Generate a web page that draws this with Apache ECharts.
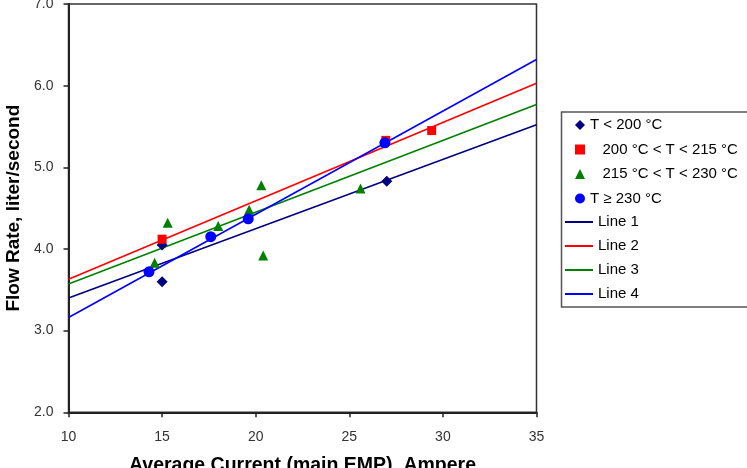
<!DOCTYPE html>
<html>
<head>
<meta charset="utf-8">
<script src="https://cdn.jsdelivr.net/npm/echarts@6/dist/echarts.min.js"></script>
<style>html,body{margin:0;padding:0;background:#fff}#c{width:747px;height:468px}</style>
</head>
<body>
<div id="c"></div>
<script>
// Data
const seriesNames = ['T < 200 °C', '   200 °C < T < 215 °C', '   215 °C < T < 230 °C', 'T \u2265 230 °C'];
const lineNames = ['Line 1', 'Line 2', 'Line 3', 'Line 4'];

const navyX = [15, 15, 27];
const navyY = [4.05, 3.60, 4.83];
const redX = [15, 26.95, 29.4];
const redY = [4.12, 5.33, 5.45];
const greenX = [14.6, 15.3, 18.0, 19.65, 20.3, 20.4, 25.6];
const greenY = [3.83, 4.32, 4.28, 4.48, 4.78, 3.92, 4.74];
const blueX = [14.3, 17.6, 19.6, 26.9];
const blueY = [3.72, 4.15, 4.37, 5.30];

const lineX = [10, 35];
const line1Y = [3.40, 5.52];
const line2Y = [3.63, 6.03];
const line3Y = [3.57, 5.77];
const line4Y = [3.16, 6.32];

const xTicks = [10, 15, 20, 25, 30, 35];
const yTicks = [2, 3, 4, 5, 6, 7];

const zip = (xs, ys) => xs.map((x, i) => [x, ys[i]]);

const chart = echarts.init(document.getElementById('c'), null, {renderer: 'canvas'});
const font = 'Liberation Sans, Arial, sans-serif';

const scatterDefs = [
  {name: seriesNames[0], data: zip(navyX, navyY), symbol: 'diamond', size: 11, color: '#000080'},
  {name: seriesNames[1], data: zip(redX, redY), symbol: 'rect', size: 9, color: '#FF0000'},
  {name: seriesNames[2], data: zip(greenX, greenY), symbol: 'triangle', size: 10, color: '#008000'},
  {name: seriesNames[3], data: zip(blueX, blueY), symbol: 'circle', size: 11, color: '#0000FF'}
];
const lineDefs = [
  {name: lineNames[0], data: zip(lineX, line1Y), color: '#000080'},
  {name: lineNames[1], data: zip(lineX, line2Y), color: '#FF0000'},
  {name: lineNames[2], data: zip(lineX, line3Y), color: '#008000'},
  {name: lineNames[3], data: zip(lineX, line4Y), color: '#0000FF'}
];

const series = [];
lineDefs.forEach(d => series.push({
  type: 'line', name: d.name, data: d.data, symbol: 'none', showSymbol: false,
  lineStyle: {color: d.color, width: 1.6}, itemStyle: {color: d.color}, z: 2, animation: false
}));
scatterDefs.forEach(d => series.push({
  type: 'scatter', name: d.name, data: d.data, symbol: d.symbol, symbolSize: d.size,
  itemStyle: {color: d.color, opacity: 1}, z: 3, animation: false
}));

chart.setOption({
  animation: false,
  backgroundColor: '#fff',
  grid: {left: 68.5, right: 210.5, top: 4, bottom: 55.7, show: true, borderColor: '#333', borderWidth: 1.5,
         containLabel: false, outerBoundsMode: 'none'},
  xAxis: {
    type: 'value', min: xTicks[0], max: xTicks[xTicks.length - 1], interval: 5,
    splitLine: {show: false},
    axisLine: {show: true, onZero: false, lineStyle: {color: '#222', width: 2}},
    axisTick: {show: true, inside: false, length: 5, lineStyle: {color: '#222', width: 1.5}},
    axisLabel: {color: '#333', fontSize: 14, fontFamily: font, margin: 18},
    name: 'Average Current (main EMP), Ampere', nameLocation: 'middle', nameGap: 43,
    nameTextStyle: {color: '#000', fontSize: 19.5, fontWeight: 'bold', fontFamily: font}
  },
  yAxis: {
    type: 'value', min: yTicks[0], max: yTicks[yTicks.length - 1], interval: 1,
    splitLine: {show: false},
    axisLine: {show: true, onZero: false, lineStyle: {color: '#222', width: 2}},
    axisTick: {show: true, inside: false, length: 5, lineStyle: {color: '#222', width: 1.5}},
    axisLabel: {color: '#333', fontSize: 14, fontFamily: font, margin: 15, formatter: v => v.toFixed(1)},
    name: 'Flow Rate, liter/second', nameLocation: 'middle', nameGap: 45, nameRotate: 90,
    nameTextStyle: {color: '#000', fontSize: 19, fontWeight: 'bold', fontFamily: font}
  },
  legend: [
    {
      data: seriesNames, orient: 'vertical', left: 575, top: 117, padding: 0,
      itemWidth: 10, itemHeight: 10, itemGap: 8.5,
      textStyle: {color: '#000', fontSize: 15, fontFamily: font, lineHeight: 16}
    },
    {
      data: lineNames.map(n => ({name: n, icon: 'rect'})), orient: 'vertical', left: 565, top: 214, padding: 0,
      itemWidth: 28, itemHeight: 2, itemGap: 8,
      textStyle: {color: '#000', fontSize: 15, fontFamily: font, lineHeight: 16}
    }
  ],
  graphic: [
    {type: 'rect', left: 559, top: 109.5, shape: {width: 200, height: 195},
     style: {fill: 'none', stroke: '#555', lineWidth: 1.5}, z: -1, silent: true}
  ],
  series: series
});
</script>
</body>
</html>
